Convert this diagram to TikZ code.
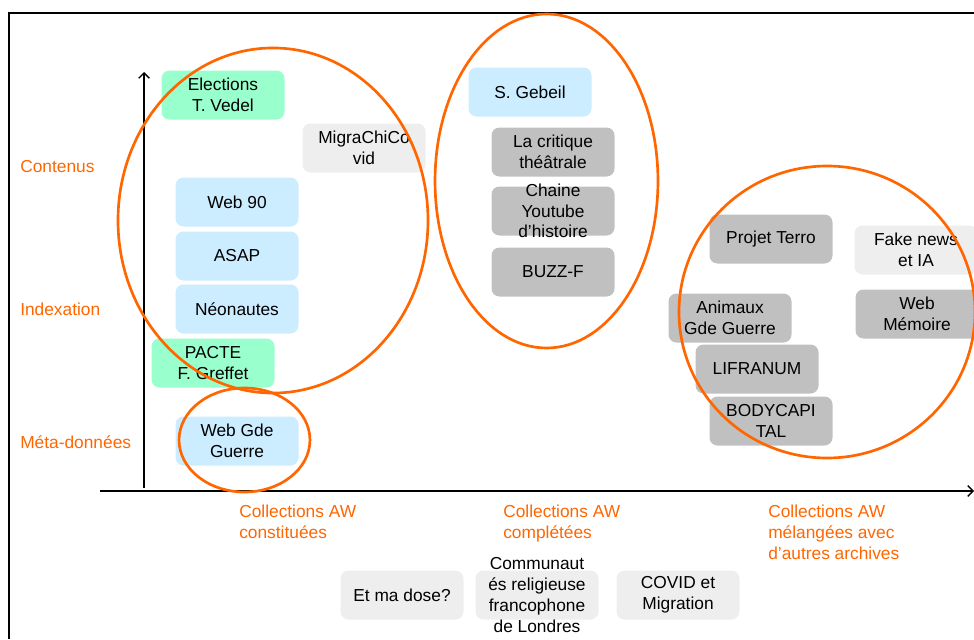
\documentclass[tikz,border=0pt]{standalone}
\usepackage{fontspec}
\setmainfont{Liberation Sans}
\usetikzlibrary{arrows.meta}
\definecolor{aworange}{RGB}{255,102,0}
\definecolor{awblue}{RGB}{204,236,255}
\definecolor{awgreen}{RGB}{153,255,204}
\definecolor{awgrey}{RGB}{192,192,192}
\definecolor{awlight}{RGB}{238,238,238}

\begin{document}
\begin{tikzpicture}
[x=0.75pt, y=-0.75pt, >={Straight Barb[length=4pt, width=8pt]},
 every node/.style={inner sep=0pt, font=\fontsize{13pt}{15.6pt}\selectfont, align=center},
 box/.style={rounded corners=6pt, minimum width=92.25pt, minimum height=36.75pt},
 bluebox/.style={box, fill=awblue},
 greenbox/.style={box, fill=awgreen},
 greybox/.style={box, fill=awgrey},
 lightbox/.style={box, fill=awlight},
 axislabel/.style={text=aworange, align=left},
 group/.style={draw=aworange, line width=2pt}]
\clip (0,0) rectangle (974,639);
\draw [line width=1pt] (9,639) -- (9,13) -- (974,13);
% axes
\coordinate (yfoot) at (144,488);
\coordinate (ytop) at (144,72);
\coordinate (xfoot) at (100,491);
\coordinate (xtip) at (974,491);
\draw [line width=1pt, ->] (yfoot) -- (ytop);
\draw [line width=1pt, ->] (xfoot) -- (xtip);
\node (contenus) [axislabel, anchor=west] at (20,167) {Contenus};
\node (indexation) [axislabel, anchor=west] at (20,309) {Indexation};
\node (meta) [axislabel, anchor=west] at (20,442) {Méta-données};
\node (constituees) [axislabel, anchor=north west] at (239,505) {Collections AW\\constituées};
\node (completees) [axislabel, anchor=north west] at (503,505) {Collections AW\\complétées};
\node (melangees) [axislabel, anchor=north west] at (768,505) {Collections AW\\mélangées avec\\d’autres archives};
% collections
\node (vedel) [greenbox] at (223,95) {Elections\\T. Vedel};
\node (migra) [lightbox] at (364,148) {MigraChiCo\\vid};
\node (web90) [bluebox] at (237,202) {Web 90};
\node (asap) [bluebox] at (237,256) {ASAP};
\node (neonautes) [bluebox] at (237,309) {Néonautes};
\node (pacte) [greenbox] at (213,363) {PACTE\\F. Greffet};
\node (webgg) [bluebox] at (237,441) {Web Gde\\Guerre};
\node (gebeil) [bluebox] at (530,92) {S. Gebeil};
\node (critique) [greybox] at (553,152) {La critique\\théâtrale};
\node (youtube) [greybox, label={center:Chaine\\Youtube\\d’histoire}] at (553,211) {};
\node (buzz) [greybox] at (553,272) {BUZZ-F};
\node (terro) [greybox] at (771,239) {Projet Terro};
\node (fakenews) [lightbox] at (916,250) {Fake news\\et IA};
\node (webmem) [greybox] at (917,314) {Web\\Mémoire};
\node (animaux) [greybox] at (730,318) {Animaux\\Gde Guerre};
\node (lifranum) [greybox] at (757,369) {LIFRANUM};
\node (bodycap) [greybox] at (771,421) {BODYCAPI\\TAL};
\node (dose) [lightbox] at (402,595) {Et ma dose?};
\node (communautes) [lightbox, label={center:Communaut\\és religieuse\\francophone\\de Londres}] at (537,595) {};
\node (covid) [lightbox] at (678,595) {COVID et\\Migration};
% groups
\draw [group] (273,220.5) ellipse [x radius=116.25pt, y radius=129.4pt];
\draw [group] (244.5,440) ellipse [x radius=49.1pt, y radius=39pt];
\draw [group] (546.5,181) ellipse [x radius=83.6pt, y radius=125.25pt];
\draw [group] (827,312) ellipse [x radius=111pt, y radius=109.5pt];
\end{tikzpicture}
\end{document}
